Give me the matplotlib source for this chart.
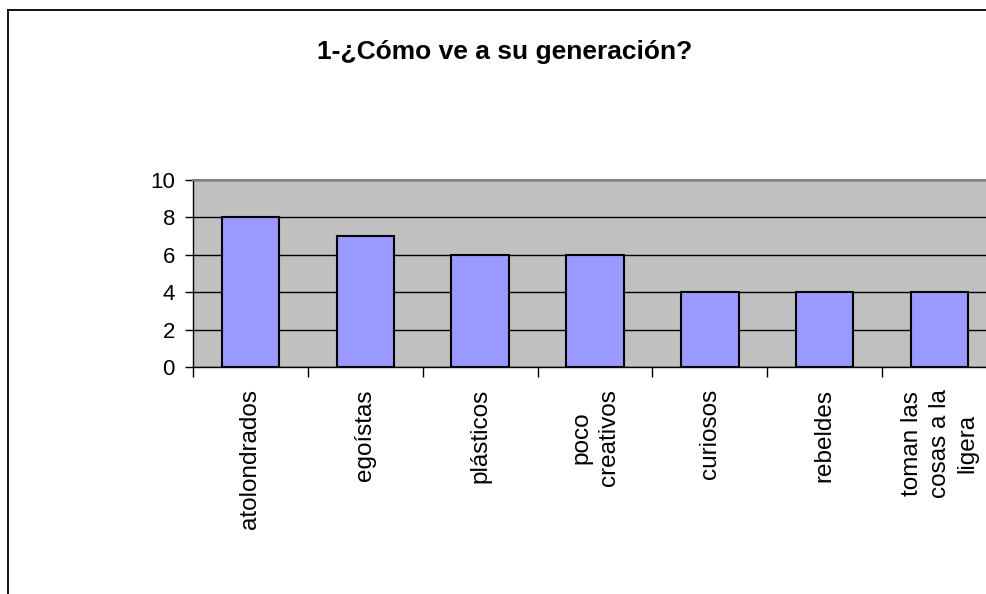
import numpy as np
import matplotlib.pyplot as plt
from matplotlib.lines import Line2D

# data
categorias = ["atolondrados", "egoístas", "plásticos", "poco\ncreativos",
              "curiosos", "rebeldes", "toman las\ncosas a la\nligera"]
valores = [8, 7, 6, 6, 4, 4, 4]
titulo = "1-¿Cómo ve a su generación?"

plt.rcParams['font.family'] = ['Liberation Sans', 'DejaVu Sans']

W, H = 987, 594
fig = plt.figure(figsize=(W / 100, H / 100), dpi=100)

# plot area runs past the right edge of the picture (as in the reference)
x0, x1 = 193, 997
y0, y1 = 367, 180
ax = fig.add_axes([x0 / W, 1 - y0 / H, (x1 - x0) / W, (y0 - y1) / H])
ax.set_facecolor('#C0C0C0')

x = np.arange(len(categorias)) + 0.5
ax.bar(x, valores, width=0.5, color='#9999FF', edgecolor='black', linewidth=1.5, zorder=3)

ax.set_xlim(0, len(categorias))
ax.set_ylim(0, 10)
ax.set_yticks(np.arange(0, 11, 2))
ax.yaxis.grid(True, color='black', linewidth=1, zorder=1)
ax.set_axisbelow(True)

ax.set_xticks(x)
ax.set_xticklabels(categorias)
ax.set_xticks(np.arange(0, len(categorias) + 1), minor=True)
ax.tick_params(axis='x', which='major', length=0, pad=16, labelsize=17.5)
ax.tick_params(axis='x', which='minor', length=7, width=1, direction='out')
ax.tick_params(axis='y', length=6, width=1, labelsize=16, pad=7)
for lab in ax.get_xticklabels():
    lab.set_rotation(90)
    lab.set_ha('center')
    lab.set_va('top')
    lab.set_multialignment('center')
    lab.set_linespacing(1.35)

ax.spines['top'].set_color('#808080')
ax.spines['top'].set_linewidth(1.5)
ax.spines['right'].set_visible(False)
ax.spines['left'].set_linewidth(1)
ax.spines['bottom'].set_linewidth(1)

fig.text(505 / W, 1 - 52 / H, titulo, ha='center', va='center',
         fontsize=19, fontweight='bold')

# chart-area border (left and top visible)
fig.add_artist(Line2D([8 / W, 8 / W], [0, 1 - 10 / H], transform=fig.transFigure,
                      color='black', linewidth=1.3))
fig.add_artist(Line2D([8 / W, 1], [1 - 10 / H, 1 - 10 / H], transform=fig.transFigure,
                      color='black', linewidth=1.3))

fig.savefig('out.png', dpi=100)
